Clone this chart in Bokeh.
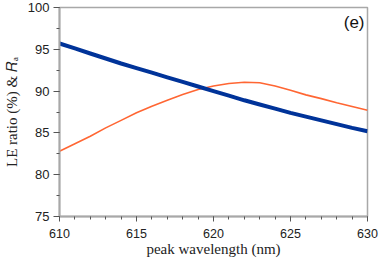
import math
from bokeh.plotting import figure
from bokeh.models import Range1d, Label, FixedTicker
from bokeh.embed import file_html
from bokeh.resources import INLINE

wavelength = [610, 611, 612, 613, 614, 615, 616, 617, 618, 619, 620,
              621, 622, 623, 624, 625, 626, 627, 628, 629, 630]
le_ratio = [95.7, 95.1, 94.5, 93.9, 93.3, 92.75, 92.2, 91.65, 91.1, 90.55, 90.0,
            89.45, 88.9, 88.4, 87.9, 87.4, 86.95, 86.5, 86.05, 85.6, 85.2]
ra_values = [82.8, 83.7, 84.6, 85.6, 86.5, 87.4, 88.2, 88.9, 89.6, 90.2, 90.6,
             90.9, 91.05, 91.0, 90.6, 90.1, 89.55, 89.1, 88.6, 88.15, 87.7]
x_ticks = [610, 615, 620, 625, 630]
y_ticks = [75, 80, 85, 90, 95, 100]

p = figure(width=386, height=259, output_backend="svg", toolbar_location=None,
           x_range=Range1d(610, 630), y_range=Range1d(75, 100),
           min_border_left=56, min_border_right=19, min_border_top=7, min_border_bottom=42)
p.grid.visible = False
p.outline_line_color = "#a8a8a8"
p.outline_line_width = 1.5
p.background_fill_color = "white"
p.border_fill_color = "white"

p.line(wavelength, ra_values, line_color="#ff6633", line_width=1.6)
p.line(wavelength, le_ratio, line_color="#003399", line_width=4)

for ax in (p.xaxis[0], p.yaxis[0]):
    ax.axis_line_color = "#a8a8a8"
    ax.axis_line_width = 2
    ax.major_tick_line_color = "#555555"
    ax.minor_tick_line_color = "#555555"
    ax.major_tick_in = 0
    ax.minor_tick_in = 0
    ax.major_label_text_font = "Liberation Sans"
    ax.major_label_text_color = "#222222"

p.xaxis.major_label_text_font_size = "12.5px"
p.yaxis.major_label_text_font_size = "13px"
p.xaxis.ticker = FixedTicker(ticks=x_ticks, minor_ticks=list(range(610, 631)))
p.yaxis.ticker = FixedTicker(ticks=y_ticks, minor_ticks=[75 + 2.5 * i for i in range(11)])
p.xaxis.major_tick_out = 5
p.xaxis.minor_tick_out = 3
p.yaxis.major_tick_out = 6
p.yaxis.minor_tick_out = 3
p.xaxis.major_label_standoff = 7
p.yaxis.major_label_standoff = 4

p.xaxis.axis_label = "peak wavelength (nm)"
p.xaxis.axis_label_text_font = "Liberation Serif"
p.xaxis.axis_label_text_font_size = "15px"
p.xaxis.axis_label_text_font_style = "normal"
p.xaxis.axis_label_text_color = "#222222"
p.xaxis.axis_label_standoff = 0

p.yaxis.axis_label = "LE ratio (%) & \U0001D445\u2090"
p.yaxis.axis_label_text_font = "Liberation Serif"
p.yaxis.axis_label_text_font_size = "15px"
p.yaxis.axis_label_text_font_style = "normal"
p.yaxis.axis_label_text_color = "#222222"
p.yaxis.axis_label_standoff = 5

panel_label = Label(x=630, y=98.2, x_offset=-3, text="(e)", text_align="right",
                    text_baseline="middle", text_font="Liberation Sans",
                    text_font_size="17px", text_color="#111111")
p.add_layout(panel_label)

open("out.html", "w").write(file_html(p, INLINE))
